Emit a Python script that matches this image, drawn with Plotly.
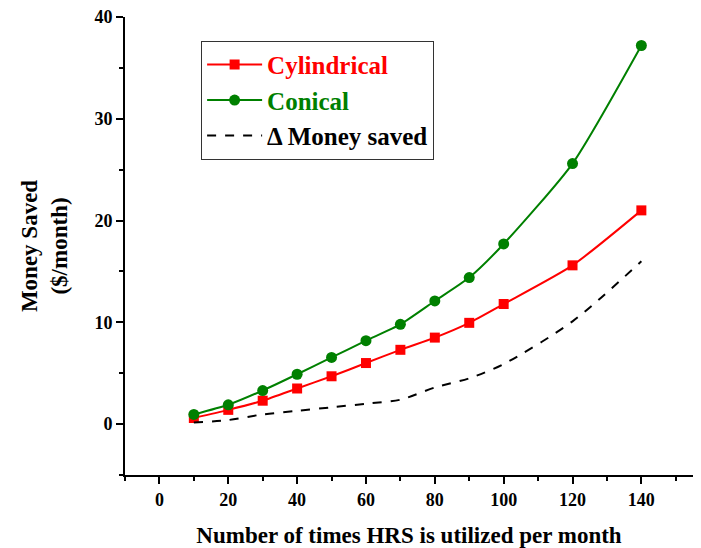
import plotly.graph_objects as go

x_vals = [10, 20, 30, 40, 50, 60, 70, 80, 90, 100, 120, 140]
cylindrical = [0.6, 1.4, 2.3, 3.5, 4.7, 6.0, 7.3, 8.5, 9.95, 11.8, 15.6, 21.0]
conical = [0.95, 1.9, 3.3, 4.9, 6.55, 8.2, 9.8, 12.1, 14.4, 17.7, 25.6, 37.2]
delta_saved = [0.15, 0.4, 0.95, 1.3, 1.65, 2.0, 2.4, 3.6, 4.5, 5.9, 10.1, 16.0]

x_ticks = [0, 20, 40, 60, 80, 100, 120, 140]
y_ticks = [0, 10, 20, 30, 40]

RED = "#FF0000"
GREEN = "#008000"
FONT = "Liberation Serif"

fig = go.Figure()
fig.add_trace(go.Scatter(
    x=x_vals, y=cylindrical, mode="lines+markers",
    name="<span style='color:#FF0000'><b>Cylindrical</b></span>",
    line=dict(color=RED, width=2, shape="spline", smoothing=0.6),
    marker=dict(symbol="square", size=10, color=RED),
))
fig.add_trace(go.Scatter(
    x=x_vals, y=conical, mode="lines+markers",
    name="<span style='color:#008000'><b>Conical</b></span>",
    line=dict(color=GREEN, width=2, shape="spline", smoothing=0.6),
    marker=dict(symbol="circle", size=11, color=GREEN),
))
fig.add_trace(go.Scatter(
    x=x_vals, y=delta_saved, mode="lines",
    name="<b>Δ Money saved</b>",
    line=dict(color="black", width=2, dash="dash", shape="spline", smoothing=0.8),
))

# page body has an 8px margin, so the figure is sized/offset to compensate
fig.update_layout(
    width=693, height=540,
    margin=dict(l=117, r=8, t=9, b=73),
    paper_bgcolor="white", plot_bgcolor="white",
    font=dict(family=FONT, size=18, color="black"),
    showlegend=True,
    legend=dict(
        x=0.134, y=0.948, xanchor="left", yanchor="top",
        bordercolor="#333", borderwidth=1, bgcolor="white",
        font=dict(family=FONT, size=25, color="black"),
        tracegroupgap=0, itemwidth=55,
    ),
)

fig.update_xaxes(
    range=[-10, 155], tickvals=x_ticks,
    ticktext=[f"<b>{v}</b>" for v in x_ticks],
    showline=True, linecolor="black", linewidth=2,
    ticks="outside", ticklen=7, tickwidth=2, tickcolor="black",
    minor=dict(dtick=10, tick0=0, ticks="outside", ticklen=4, tickwidth=2, tickcolor="black"),
    showgrid=False, zeroline=False, automargin=False,
    ticklabeloverflow="allow",
    tickfont=dict(family=FONT, size=18),
    title=dict(text="<b>Number of times HRS is utilized per month</b>",
               font=dict(family=FONT, size=23), standoff=18),
)
fig.update_yaxes(
    range=[-5, 40], tickvals=y_ticks,
    ticktext=[f"<b>{v}</b>" for v in y_ticks],
    showline=True, linecolor="black", linewidth=2,
    ticks="outside", ticklen=7, tickwidth=2, tickcolor="black",
    minor=dict(dtick=5, tick0=0, ticks="outside", ticklen=4, tickwidth=2, tickcolor="black"),
    showgrid=False, zeroline=False, automargin=False,
    ticklabeloverflow="allow",
    tickfont=dict(family=FONT, size=18),
    title=dict(text="<b>Money Saved<br>($/month)</b>",
               font=dict(family=FONT, size=23), standoff=20),
)

fig.write_html("out.html")
